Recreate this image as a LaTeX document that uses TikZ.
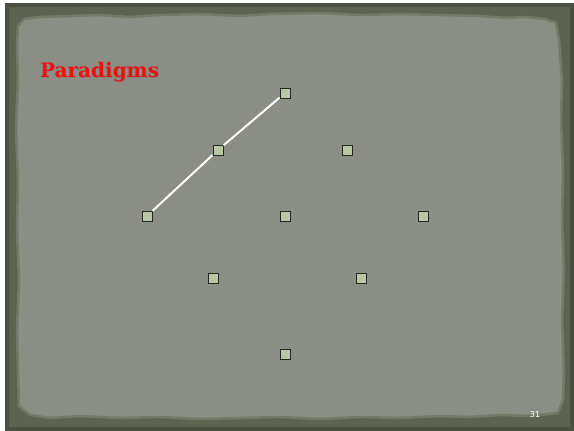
\documentclass[tikz,border=0pt]{standalone}
\usepackage{fontspec}
\newfontfamily\titlefont{DejaVu Serif}
\setsansfont{DejaVu Sans}
\definecolor{frame}{HTML}{5C6350}
\definecolor{frameedge}{HTML}{4A5140}
\definecolor{panel}{HTML}{8B8E84}
\definecolor{panelrim}{HTML}{747A68}
\definecolor{sqfill}{HTML}{B8C7A4}
\definecolor{titlered}{HTML}{EE1111}
\tikzset{
  pt/.style={draw=black!85, fill=sqfill, line width=1pt, minimum size=10pt, inner sep=0pt, rectangle},
  link/.style={white, line width=2pt}
}
\begin{document}
\begin{tikzpicture}[x=1pt,y=-1pt]
\useasboundingbox (0,0) rectangle (574,431);
\fill[white] (0,0) rectangle (574,431);
\fill[frame] (5,3) rectangle (574,431);
\draw[frameedge, line width=4pt] (7,5) rectangle (572,429);
% inner panel with rough edges
\path[fill=panel, draw=panelrim, line width=2.5pt, line join=round]
 (18,26) -- (24,19) -- (40,17) -- (70,16) -- (100,15) -- (130,17) -- (160,15) -- (200,14) -- (240,16) -- (270,14)
 -- (320,13) -- (360,15) -- (400,14) -- (440,15) -- (480,16) -- (505,18) -- (525,17) -- (545,19) -- (556,23)
 -- (559,40) -- (562,80) -- (561,120) -- (563,170) -- (562,220) -- (564,270) -- (562,320) -- (564,370)
 -- (563,400) -- (558,413) -- (530,416) -- (500,415) -- (470,417) -- (440,416) -- (400,418) -- (360,417)
 -- (320,419) -- (280,417) -- (240,418) -- (200,419) -- (160,417) -- (120,418) -- (80,416) -- (50,418)
 -- (30,415) -- (19,406) -- (18,370) -- (17,330) -- (19,280) -- (17,230) -- (18,180) -- (16,130) -- (18,80) -- (17,45) -- cycle;
% title
\node[anchor=base west, inner sep=0pt, text=black!50, opacity=0.6] at (41,78.5) {\titlefont\bfseries\fontsize{20}{24}\selectfont Paradigms};
\node[anchor=base west, inner sep=0pt, text=titlered] (title) at (40,77.5) {\titlefont\bfseries\fontsize{20}{24}\selectfont Paradigms};
% points
\node[pt] (a) at (285,93) {};
\node[pt] (b) at (218,150) {};
\node[pt] (c) at (347,150) {};
\node[pt] (d) at (147,216) {};
\node[pt] (e) at (285,216) {};
\node[pt] (f) at (423,216) {};
\node[pt] (g) at (213,278) {};
\node[pt] (h) at (361,278) {};
\node[pt] (i) at (285,354) {};
\draw[link] (d) -- (b);
\draw[link] (b) -- (a);
% page number
\node[text=white, inner sep=0pt, font=\sffamily\fontsize{8}{9}\selectfont] (num) at (535,415) {31};
\end{tikzpicture}
\end{document}
